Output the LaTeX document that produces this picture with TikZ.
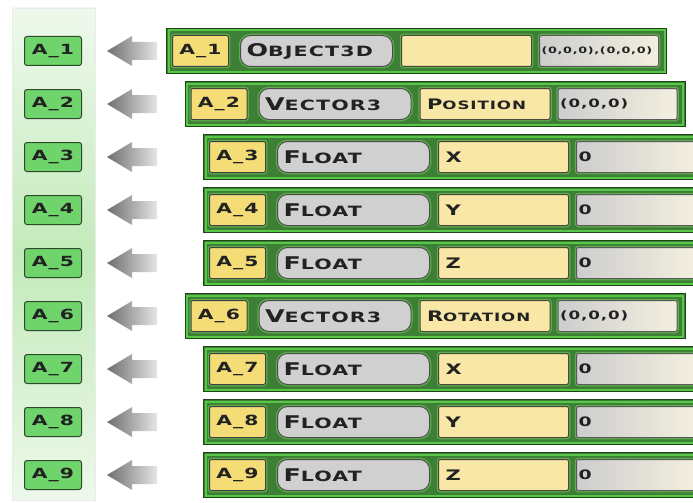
\documentclass[tikz,border=0pt]{standalone}
\usepackage{fontspec}
\newfontfamily\cpfont[FakeStretch=1.45,LetterSpace=8]{DejaVu Sans}

\definecolor{stripTop}{HTML}{EFF9ED}
\definecolor{stripMid}{HTML}{C3EABA}
\definecolor{stripBot}{HTML}{EDF8EA}
\definecolor{tagfill}{HTML}{6FD46C}
\definecolor{tagline}{HTML}{2C4A2A}
\definecolor{barfill}{HTML}{3D7F34}
\definecolor{bardark}{HTML}{1E4418}
\definecolor{barlight}{HTML}{58C647}
\definecolor{glow}{HTML}{5FAE4E}
\definecolor{idfill}{HTML}{F4DD76}
\definecolor{fieldfill}{HTML}{F8E7A6}
\definecolor{pillfill}{HTML}{D0D0D0}
\definecolor{valleft}{HTML}{CDCDCD}
\definecolor{valright}{HTML}{F3EFDF}
\definecolor{ink}{HTML}{222222}
\definecolor{arrowdark}{HTML}{6E6E6E}

% petites capitales fabriquées : initiale grande, reste plus petit
\newcommand\capsword[4]{{\fontsize{#1}{#1}\selectfont #3}{\fontsize{#2}{#2}\selectfont #4}}

\tikzset{
  tag/.style={draw=tagline, fill=tagfill, line width=1pt, rounded corners=2.5pt,
    minimum width=57pt, minimum height=29pt, inner sep=0pt, text=ink,
    font=\cpfont\bfseries\fontsize{14}{14}\selectfont},
  bar/.style={draw=bardark, line width=1.1pt, fill=barfill,
    path picture={\draw[barlight, line width=2pt]
      ([shift={(2pt,2pt)}]path picture bounding box.south west) rectangle
      ([shift={(-2pt,-2pt)}]path picture bounding box.north east);},
    minimum width=500pt, minimum height=45pt, inner sep=0pt, anchor=west},
  element/.style={preaction={draw=glow, line width=3.5pt}, line width=1pt,
    minimum height=31pt, inner sep=0pt, anchor=west, text=ink},
  idbox/.style={element, draw=black!75, fill=idfill, rounded corners=2pt,
    minimum width=56pt, font=\cpfont\bfseries\fontsize{14}{14}\selectfont},
  typepill/.style={element, draw=black!70, fill=pillfill, rounded corners=10pt,
    text width=140pt, inner xsep=6pt, align=left, font=\cpfont\bfseries},
  namefield/.style={element, draw=black!70!yellow!60!black, fill=fieldfill, rounded corners=2pt,
    text width=116pt, inner xsep=7pt, align=left, font=\cpfont\bfseries},
  valuebox/.style={element, draw=black!65, left color=valleft, right color=valright,
    rounded corners=2pt, text width=115pt, inner xsep=2pt, align=left, font=\cpfont\bfseries},
}

\begin{document}
\begin{tikzpicture}[x=1pt, y=-1pt]
  \useasboundingbox (0,0) rectangle (693,503);
  \clip (0,0) rectangle (693,503);

  % bande de gauche (middle color en dernier, sinon il est écrasé)
  \shade[top color=stripTop, bottom color=stripBot, middle color=stripMid, draw=black!8]
    (12,8) rectangle (95,500);

  \foreach \i/\lv/\ta/\tb/\na/\nb/\val/\vs in {
      1/0/O/BJECT3D///{(0,0,0),(0,0,0)}/8.8,
      2/1/V/ECTOR3/P/OSITION/{(0,0,0)}/11.5,
      3/2/F/LOAT/X//0/13,
      4/2/F/LOAT/Y//0/13,
      5/2/F/LOAT/Z//0/13,
      6/1/V/ECTOR3/R/OTATION/{(0,0,0)}/11.5,
      7/2/F/LOAT/X//0/13,
      8/2/F/LOAT/Y//0/13,
      9/2/F/LOAT/Z//0/13}{
    \pgfmathsetmacro\y{51+53*(\i-1)}
    \pgfmathsetmacro\x{166+18.5*\lv}

    \node[tag] (tag\i) at (53,\y) {A\_\i};

    % flèche grise en dégradé
    \begin{scope}[shift={(tag\i.east)}]
      \shade[left color=arrowdark, right color=white!90!black]
        (25,0) -- (50,-15) -- (50,-9) -- (75,-9) -- (75,9) -- (50,9) -- (50,15) -- cycle;
    \end{scope}

    \node[bar] (bar\i) at (\x,\y) {};
    \node[idbox] (id\i) at ([xshift=6pt]bar\i.west) {A\_\i};
    \node[typepill] (type\i) at ([xshift=74pt]bar\i.west) {\capsword{17.5}{14.2}{\ta}{\tb}};
    \node[namefield] (name\i) at ([xshift=235pt]bar\i.west) {\capsword{14.5}{11.5}{\na}{\nb}};
    \node[valuebox] (val\i) at ([xshift=373pt]bar\i.west) {\fontsize{\vs}{\vs}\selectfont\val};
  }
\end{tikzpicture}
\end{document}
